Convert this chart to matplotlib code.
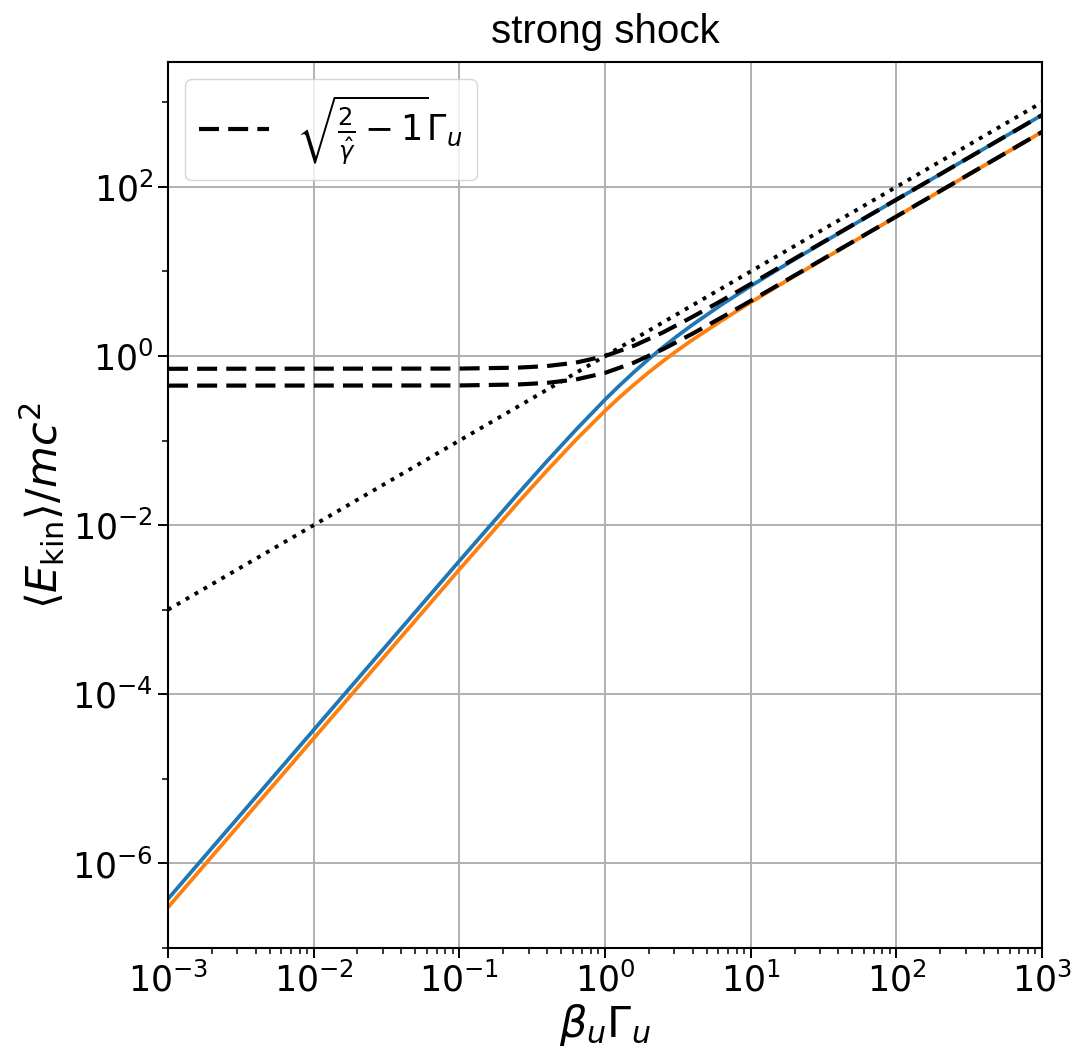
import numpy as np
import matplotlib
matplotlib.use("Agg")
import matplotlib.pyplot as plt

# values (log-log)
x_pts = [1e-3, 1e-1, 0.251, 0.398, 0.631, 1.0, 1.259, 1.585, 1.995, 2.512,
         3.162, 3.981, 6.310, 10.0, 17.78, 31.62, 100.0, 1000.0]

blue = [3.80e-7, 3.77e-3, 0.0232, 0.0566, 0.134, 0.305, 0.449, 0.649, 0.920,
        1.28, 1.746, 2.34, 4.05, 6.73, 12.3, 22.2, 70.6, 708.0]
orange = [3.02e-7, 2.99e-3, 0.0182, 0.0439, 0.102, 0.225, 0.325, 0.461, 0.641,
          0.875, 1.175, 1.552, 2.62, 4.31, 7.82, 14.0, 44.6, 447.0]

dash_x = [1e-3, 1e-1, 0.251, 0.398, 0.631, 1.0, 1.585, 2.512, 3.981, 6.310,
          10.0, 31.62, 100.0, 1000.0]
dash_hi = [0.707, 0.711, 0.729, 0.761, 0.836, 1.0, 1.325, 1.912, 2.902, 4.516,
           7.105, 22.37, 70.7, 707.0]
dash_lo = [0.447, 0.449, 0.461, 0.481, 0.528, 0.632, 0.838, 1.209, 1.835, 2.855,
           4.49, 14.14, 44.7, 447.0]

dot_x = [1e-3, 1e3]
dot_y = [1e-3, 1e3]

fig = plt.figure(figsize=(10.76, 10.51), dpi=100)
ax = fig.add_axes([0.1561, 0.098, 0.8123, 0.843])

ax.plot(x_pts, blue, color="C0", lw=2.7)
ax.plot(x_pts, orange, color="C1", lw=2.7)
ax.plot(dash_x, dash_hi, "k--", lw=3.0, dashes=(4.8, 2.2),
        label=r"$\sqrt{\frac{2}{\hat{\gamma}}-1}\Gamma_u$")
ax.plot(dash_x, dash_lo, "k--", lw=3.0, dashes=(4.8, 2.2))
ax.plot(dot_x, dot_y, "k:", lw=2.8)

ax.set_xscale("log")
ax.set_yscale("log")
ax.set_xlim(1e-3, 1e3)
ax.set_ylim(1e-7, 3e3)
ax.set_yticks([1e-6, 1e-4, 1e-2, 1, 1e2])
ax.set_yticks([1e-7, 1e-5, 1e-3, 1e-1, 1e1, 1e3], minor=True)
ax.yaxis.set_minor_formatter(matplotlib.ticker.NullFormatter())
ax.grid(True, which="major", color="#b0b0b0", lw=1.4)

ax.tick_params(which="major", labelsize=25, length=7, width=1.4)
ax.tick_params(which="minor", length=4, width=1.1)
for s in ax.spines.values():
    s.set_linewidth(1.5)

ax.set_xlabel(r"$\beta_u\Gamma_u$", fontsize=31, labelpad=2)
ax.set_ylabel(r"$\langle E_{\rm kin}\rangle/mc^2$", fontsize=31, labelpad=4)
ax.set_title("strong shock", fontsize=29, family="Liberation Sans", pad=14)

ax.legend(loc="upper left", fontsize=25, handlelength=2.0)

fig.savefig("out.png", dpi=100)
